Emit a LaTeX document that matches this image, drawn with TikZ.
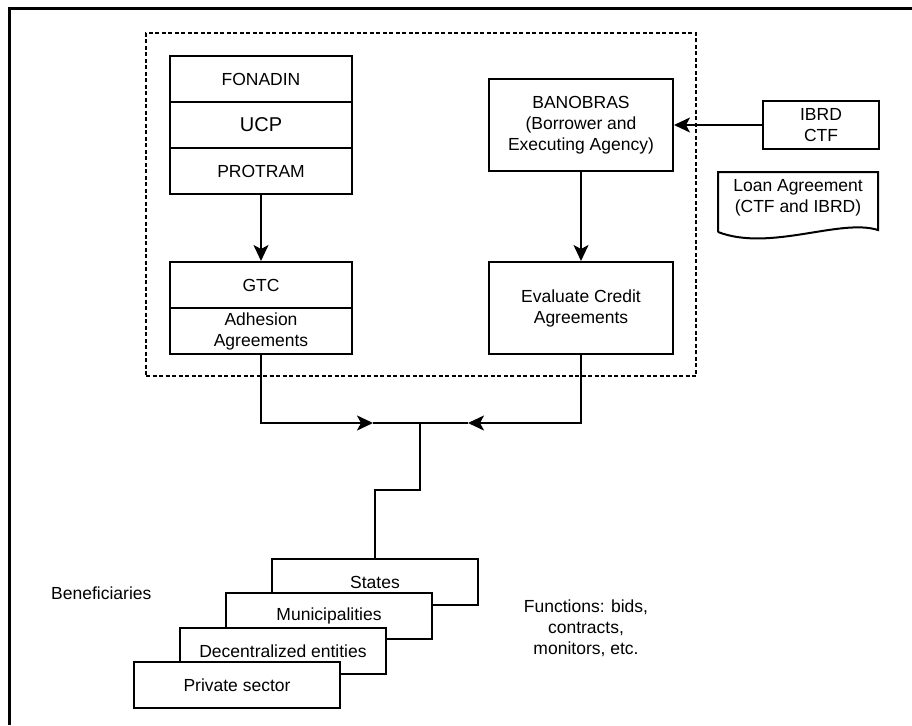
\documentclass[tikz,border=0pt]{standalone}
\usepackage{fontspec}
\setmainfont{Liberation Sans}
\usetikzlibrary{arrows.meta}
\tikzset{
  cell/.style={draw, line width=2pt, fill=white, inner sep=0pt, align=center},
  conn/.style={line width=2pt},
  arr/.style={line width=2pt, -{Stealth[length=16pt,width=15pt,inset=4pt]}},
  grp/.style={draw, line width=1.5pt, dash pattern=on 4pt off 2.5pt, inner sep=0pt},
  lbl/.style={align=center, inner sep=0pt},
}
\begin{document}
\begin{tikzpicture}[x=1pt,y=-1pt, every node/.append style={font=\fontsize{17.5}{21}\selectfont}]
\useasboundingbox (0,0) rectangle (912,725);
% outer frame (only top and left edges visible)
\draw[line width=3pt] (912,9) -- (9,9) -- (9,725);
% dashed group
\node[grp, minimum width=550pt, minimum height=343pt] (group) at (421,204.5) {};
% left stack
\node[cell, minimum width=182pt, minimum height=46pt] (fon) at (261,79) {FONADIN};
\node[cell, minimum width=182pt, minimum height=46pt, font=\fontsize{20}{24}\selectfont] (ucp) at (261,125) {UCP};
\node[cell, minimum width=182pt, minimum height=46pt] (pro) at (261,171) {PROTRAM};
\node[cell, minimum width=182pt, minimum height=46pt] (gtc) at (261,285) {GTC};
\node[cell, minimum width=182pt, minimum height=46pt] (adh) at (261,331) {Adhesion\\Agreements};
% right column
\node[cell, minimum width=184pt, minimum height=92pt] (ban) at (581,125) {BANOBRAS\\(Borrower and\\Executing Agency)};
\node[cell, minimum width=184pt, minimum height=92pt] (eva) at (581,308) {Evaluate Credit\\Agreements};
\node[cell, minimum width=116pt, minimum height=48pt] (ibrd) at (821,125) {IBRD\\CTF};
% loan agreement document
\draw[line width=2pt, fill=white] (718,232) -- (718,172) -- (878,172) -- (878,230)
  .. controls (840,218) and (770,252) .. (718,232);
\node[lbl] (loan) at (798,197.5) {Loan Agreement\\(CTF and IBRD)};
% arrows in the top part
\draw[arr] (pro.south) -- (gtc.north);
\draw[arr] (ban.south) -- (eva.north);
\draw[arr] (ibrd.west) -- (ban.east);
% beneficiaries stack
\node[cell, minimum width=206pt, minimum height=46pt] (sta) at (375,582) {States};
\node[cell, minimum width=206pt, minimum height=46pt] (mun) at (329,616) {Municipalities};
\node[cell, minimum width=206pt, minimum height=46pt] (dec) at (283,651) {Decentralized entities};
\node[cell, minimum width=206pt, minimum height=46pt] (pri) at (237,685) {Private sector};
% merging connectors
\coordinate (j) at (420,423);
\coordinate (la) at (373,423);
\coordinate (ra) at (468,423);
\coordinate (step) at (420,490);
\draw[arr] (adh.south) |- (la);
\draw[conn] (la) -- (j);
\draw[arr] (eva.south) |- (ra);
\draw[conn] (ra) -- (j);
\draw[conn] (j) -- (step) -| (sta.north);
% free labels
\node[lbl, anchor=west] (ben) at (51,593) {Beneficiaries};
\node[lbl] (fun) at (586,628) {Functions: bids,\\contracts,\\monitors, etc.};
\end{tikzpicture}
\end{document}
